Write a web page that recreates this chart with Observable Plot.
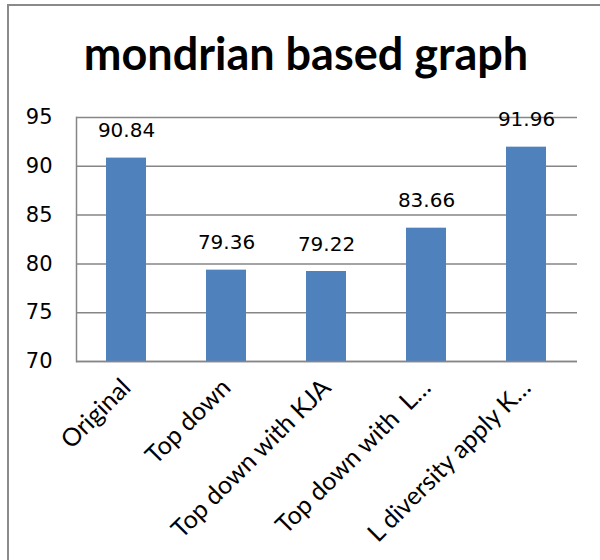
<!DOCTYPE html>
<html>
<head>
<meta charset="utf-8">
<script src="https://cdn.jsdelivr.net/npm/d3@7"></script>
<script src="https://cdn.jsdelivr.net/npm/@observablehq/plot@0.6"></script>
<style>
  html, body { margin: 0; padding: 0; background: #fff; width: 600px; height: 560px; overflow: hidden; }
  #box { position: absolute; left: 7px; top: 4px; width: 620px; height: 600px; border: 2px solid #8a8a8a; box-sizing: border-box; }
  #title { position: absolute; left: 0; width: 612px; top: 28px; text-align: center; font-family: Lato, "Open Sans", sans-serif; font-weight: bold; font-size: 45px; line-height: 50px; color: #000; }
  #chart { position: absolute; left: 0; top: 80px; }
</style>
</head>
<body>
<div id="box"></div>
<div id="title">mondrian based graph</div>
<div id="chart"></div>
<script>
const categories = ["Original", "Top down", "Top down with KJA", "Top down with  L…", "L diversity apply K…"];
const values = [90.84, 79.36, 79.22, 83.66, 91.96];
const yTicks = [70, 75, 80, 85, 90, 95];

const data = categories.map((c, i) => ({category: c, value: values[i]}));
const font = "DejaVu Sans, Verdana, sans-serif";

const plot = Plot.plot({
  width: 600,
  height: 480,
  marginTop: 37,
  marginBottom: 199,
  marginLeft: 76,
  marginRight: 23,
  style: {fontFamily: font, fontSize: "20px", color: "#000", background: "transparent"},
  x: {domain: categories, paddingInner: 0.6, paddingOuter: 0.3, label: null},
  y: {domain: [70, 95], label: null},
  marks: [
    Plot.gridY(yTicks, {stroke: "#868686", strokeOpacity: 1, strokeWidth: 1.5}),
    Plot.barY(data, {x: "category", y1: 70, y2: "value", fill: "#4f81bd"}),
    Plot.ruleY([70], {stroke: "#868686", strokeWidth: 1.5}),
    Plot.frame({anchor: "left", stroke: "#868686", strokeWidth: 1.5}),
    Plot.text(data, {x: "category", y: "value", text: d => d.value.toFixed(2), dy: -21, lineAnchor: "bottom", fontSize: 20, fill: "#000"}),
    Plot.axisY(yTicks, {tickSize: 0, tickPadding: 24, fontSize: 21, label: null, fill: "#000"}),
    Plot.axisX({tickSize: 0, tickRotate: -45, tickPadding: 22, fontSize: 25, fontFamily: "Lato, sans-serif", label: null, fill: "#000"})
  ]
});
document.getElementById("chart").appendChild(plot);
</script>
</body>
</html>
